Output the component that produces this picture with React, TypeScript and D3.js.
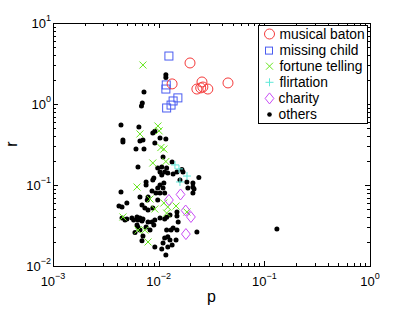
import { useEffect, useRef } from 'react';
import * as d3 from 'd3';

type Pt = [number, number]; // [p, r]

// valores (p, r)
const musicalBaton: Pt[] = [
  [0.0198, 3.21], [0.0134, 1.77], [0.0257, 1.87], [0.023, 1.53],
  [0.025, 1.58], [0.0262, 1.62], [0.0292, 1.53], [0.0453, 1.82],
];

const missingChild: Pt[] = [
  [0.0125, 3.91], [0.0118, 1.72], [0.0117, 1.53], [0.0152, 1.19],
  [0.0137, 1.09], [0.0131, 0.97], [0.0119, 0.893],
];

const fortuneTelling: Pt[] = [
  [0.0071, 3.03], [0.00984, 0.535], [0.00665, 0.427], [0.0101, 0.466],
  [0.0105, 0.29], [0.0112, 0.278], [0.0088, 0.187], [0.0117, 0.195],
  [0.00624, 0.0944], [0.00828, 0.0671], [0.0092, 0.0505], [0.0112, 0.06],
  [0.0122, 0.0535], [0.0146, 0.055], [0.0185, 0.0464], [0.00459, 0.0403],
  [0.00637, 0.0278], [0.0074, 0.0278], [0.00793, 0.0198], [0.0119, 0.045],
];

const flirtation: Pt[] = [
  [0.01426, 0.177], [0.01556, 0.158], [0.01854, 0.129], [0.0159, 0.109],
];

const charity: Pt[] = [
  [0.0161, 0.0764], [0.0125, 0.0653], [0.018, 0.0484], [0.0202, 0.0403], [0.0181, 0.0248],
];

const others: Pt[] = [
  [0.0117, 2.3], [0.0117, 2.12], [0.00726, 1.41], [0.007, 1.03], [0.00687, 0.944],
  [0.0044, 0.551], [0.0065, 0.52], [0.00459, 0.36], [0.00459, 0.34], [0.0071, 0.36],
  [0.00665, 0.35], [0.0088, 0.44], [0.0092, 0.46], [0.0103, 0.38], [0.0117, 0.37],
  [0.0061, 0.278], [0.00726, 0.278], [0.0092, 0.33], [0.011, 0.222], [0.00637, 0.167],
  [0.0134, 0.192], [0.0107, 0.167], [0.0119, 0.162], [0.0114, 0.145], [0.0122, 0.141],
  [0.0107, 0.133], [0.0098, 0.162], [0.0103, 0.145], [0.0166, 0.155], [0.017, 0.145],
  [0.0137, 0.137], [0.0149, 0.145], [0.009, 0.122], [0.0088, 0.115], [0.0076, 0.109],
  [0.0076, 0.1], [0.0103, 0.1], [0.0112, 0.106], [0.011, 0.0918], [0.0098, 0.0918],
  [0.0159, 0.115], [0.024, 0.124], [0.0185, 0.109], [0.0211, 0.106], [0.0211, 0.0944],
  [0.0189, 0.0918], [0.0216, 0.089], [0.0211, 0.0796], [0.0044, 0.082], [0.00865, 0.0843],
  [0.00942, 0.0796], [0.0103, 0.0796], [0.0114, 0.0796], [0.00665, 0.0711], [0.00793, 0.0711],
  [0.005, 0.06], [0.0078, 0.0653], [0.00695, 0.0566], [0.0098, 0.0653], [0.0074, 0.052],
  [0.00793, 0.0491], [0.0088, 0.052], [0.00421, 0.055], [0.0045, 0.0535], [0.0045, 0.0391],
  [0.0048, 0.037], [0.005, 0.038], [0.00558, 0.0391], [0.0058, 0.037], [0.00624, 0.0403],
  [0.00637, 0.037], [0.00665, 0.039], [0.00695, 0.036], [0.0071, 0.038], [0.00793, 0.0349],
  [0.00865, 0.0349], [0.0092, 0.037], [0.0103, 0.0391], [0.0114, 0.038], [0.0119, 0.04],
  [0.0128, 0.0427], [0.0149, 0.0464], [0.0149, 0.0415], [0.00624, 0.0321], [0.00637, 0.03],
  [0.00597, 0.026], [0.00665, 0.0278], [0.0071, 0.0234], [0.0076, 0.0303], [0.00828, 0.0278],
  [0.009, 0.0321], [0.0119, 0.0278], [0.0131, 0.0278], [0.0137, 0.0295], [0.0149, 0.0278],
  [0.0122, 0.023], [0.0114, 0.0222], [0.011, 0.0192], [0.0122, 0.0172], [0.0117, 0.0137],
  [0.0107, 0.0162], [0.0128, 0.0209], [0.0134, 0.0182], [0.0146, 0.0209], [0.023, 0.0263],
  [0.1315, 0.0286], [0.00695, 0.0205], [0.0092, 0.0172], [0.0153, 0.035],
];

const legendLabels = ['musical baton', 'missing child', 'fortune telling', 'flirtation', 'charity', 'others'];
const xTickExps = [-3, -2, -1, 0];
const yTickExps = [-2, -1, 0, 1];

const FONT = 'Liberation Sans, Arial, Helvetica, sans-serif';

export default function App() {
  const svgRef = useRef<SVGSVGElement>(null);

  useEffect(() => {
    if (!svgRef.current) return;
    const width = 409;
    const height = 310;
    const left = 53, right = 370, top = 23, bottom = 266;

    const svg = d3.select(svgRef.current);
    svg.selectAll('*').remove();

    const x = d3.scaleLog().domain([1e-3, 1]).range([left, right]);
    const y = d3.scaleLog().domain([1e-2, 10]).range([bottom, top]);

    svg.append('rect').attr('width', width).attr('height', height).attr('fill', '#fff');

    const g = svg.append('g');

    // ticks hacia dentro en los cuatro lados, estilo matlab
    const minorX: number[] = [];
    for (let e = -3; e < 0; e++) for (let j = 2; j <= 9; j++) minorX.push(j * Math.pow(10, e));
    const minorY: number[] = [];
    for (let e = -2; e < 1; e++) for (let j = 2; j <= 9; j++) minorY.push(j * Math.pow(10, e));

    const tick = (x1: number, y1: number, x2: number, y2: number) =>
      g.append('line').attr('x1', x1).attr('y1', y1).attr('x2', x2).attr('y2', y2)
        .attr('stroke', '#000').attr('stroke-width', 1).attr('shape-rendering', 'crispEdges');

    xTickExps.forEach((e) => {
      const px = Math.round(x(Math.pow(10, e))) + 0.5;
      tick(px, bottom, px, bottom - 5);
      tick(px, top, px, top + 5);
    });
    minorX.forEach((v) => {
      const px = Math.round(x(v)) + 0.5;
      tick(px, bottom, px, bottom - 3);
      tick(px, top, px, top + 3);
    });
    yTickExps.forEach((e) => {
      const py = Math.round(y(Math.pow(10, e))) + 0.5;
      tick(left, py, left + 5, py);
      tick(right, py, right - 5, py);
    });
    minorY.forEach((v) => {
      const py = Math.round(y(v)) + 0.5;
      tick(left, py, left + 3, py);
      tick(right, py, right - 3, py);
    });

    // marcas
    const marks = svg.append('g');

    marks.selectAll('circle.others').data(others).join('circle')
      .attr('class', 'others')
      .attr('cx', (d) => x(d[0])).attr('cy', (d) => y(d[1])).attr('r', 2.5)
      .attr('fill', '#000');

    const xPath = (s: number) => `M${-s},${-s}L${s},${s}M${-s},${s}L${s},${-s}`;
    const plusPath = (s: number) => `M${-s},0L${s},0M0,${-s}L0,${s}`;
    const diamondPath = (s: number) => `M0,${-s}L${s * 0.8},0L0,${s}L${-s * 0.8},0Z`;

    marks.selectAll('path.ft').data(fortuneTelling).join('path')
      .attr('class', 'ft')
      .attr('transform', (d) => `translate(${x(d[0])},${y(d[1])})`)
      .attr('d', xPath(3.5)).attr('stroke', '#66e61e').attr('fill', 'none').attr('stroke-width', 1);

    marks.selectAll('path.fl').data(flirtation).join('path')
      .attr('class', 'fl')
      .attr('transform', (d) => `translate(${x(d[0])},${y(d[1])})`)
      .attr('d', plusPath(4)).attr('stroke', '#5fe8d8').attr('fill', 'none').attr('stroke-width', 1);

    marks.selectAll('path.ch').data(charity).join('path')
      .attr('class', 'ch')
      .attr('transform', (d) => `translate(${x(d[0])},${y(d[1])})`)
      .attr('d', diamondPath(5.5)).attr('stroke', '#c84cf5').attr('fill', 'none').attr('stroke-width', 1);

    marks.selectAll('rect.mc').data(missingChild).join('rect')
      .attr('class', 'mc')
      .attr('x', (d) => x(d[0]) - 4).attr('y', (d) => y(d[1]) - 4)
      .attr('width', 8).attr('height', 8)
      .attr('stroke', '#4a5cf0').attr('fill', 'none').attr('stroke-width', 1);

    marks.selectAll('circle.mb').data(musicalBaton).join('circle')
      .attr('class', 'mb')
      .attr('cx', (d) => x(d[0])).attr('cy', (d) => y(d[1])).attr('r', 5)
      .attr('stroke', '#f53a3a').attr('fill', 'none').attr('stroke-width', 1);

    // marco
    svg.append('rect').attr('x', left + 0.5).attr('y', top + 0.5)
      .attr('width', right - left).attr('height', bottom - top)
      .attr('fill', 'none').attr('stroke', '#000').attr('stroke-width', 1);

    // etiquetas de ticks con superíndice
    const pow10 = (sel: d3.Selection<SVGTextElement, unknown, null, undefined>, e: number) => {
      sel.append('tspan').text('10');
      sel.append('tspan').attr('dy', -7).style('font-size', '9px').text(e < 0 ? `\u2212${-e}` : `${e}`);
    };

    xTickExps.forEach((e) => {
      const t = svg.append('text').attr('x', x(Math.pow(10, e))).attr('y', 286)
        .attr('text-anchor', 'middle').style('font-family', FONT).style('font-size', '13px');
      pow10(t as any, e);
    });
    yTickExps.forEach((e) => {
      const t = svg.append('text').attr('x', left - 2).attr('y', y(Math.pow(10, e)) + 5)
        .attr('text-anchor', 'end').style('font-family', FONT).style('font-size', '13px');
      pow10(t as any, e);
    });

    svg.append('text').attr('x', (left + right) / 2).attr('y', 302).attr('text-anchor', 'middle')
      .style('font-family', FONT).style('font-size', '16px').text('p');
    svg.append('text').attr('transform', 'translate(17,144) rotate(-90)').attr('text-anchor', 'middle')
      .style('font-family', FONT).style('font-size', '16px').text('r');

    // leyenda
    const lg = svg.append('g');
    lg.append('rect').attr('x', 258.5).attr('y', 25.5).attr('width', 109).attr('height', 98)
      .attr('fill', '#fff').attr('stroke', '#000').attr('stroke-width', 1);
    const rowY = (i: number) => 34 + i * 16.1;
    const mx = 269.5;
    lg.append('circle').attr('cx', mx).attr('cy', rowY(0)).attr('r', 5)
      .attr('stroke', '#f53a3a').attr('fill', 'none');
    lg.append('rect').attr('x', mx - 4).attr('y', rowY(1) - 3).attr('width', 7).attr('height', 7)
      .attr('stroke', '#4a5cf0').attr('fill', 'none');
    lg.append('path').attr('transform', `translate(${mx},${rowY(2)})`).attr('d', xPath(3.5))
      .attr('stroke', '#66e61e').attr('fill', 'none');
    lg.append('path').attr('transform', `translate(${mx},${rowY(3)})`).attr('d', plusPath(4))
      .attr('stroke', '#5fe8d8').attr('fill', 'none');
    lg.append('path').attr('transform', `translate(${mx},${rowY(4)})`).attr('d', diamondPath(5.5))
      .attr('stroke', '#c84cf5').attr('fill', 'none');
    lg.append('circle').attr('cx', mx).attr('cy', rowY(5)).attr('r', 2.3).attr('fill', '#000');

    legendLabels.forEach((lab, i) => {
      lg.append('text').attr('x', i >= 4 ? 278.5 : 279.5).attr('y', rowY(i) + 4.8)
        .style('font-family', FONT).style('font-size', '13.8px').text(lab);
    });
  }, []);

  return (
    <svg
      ref={svgRef}
      width={409}
      height={310}
      style={{ position: 'absolute', left: 0, top: 0 }}
    />
  );
}
